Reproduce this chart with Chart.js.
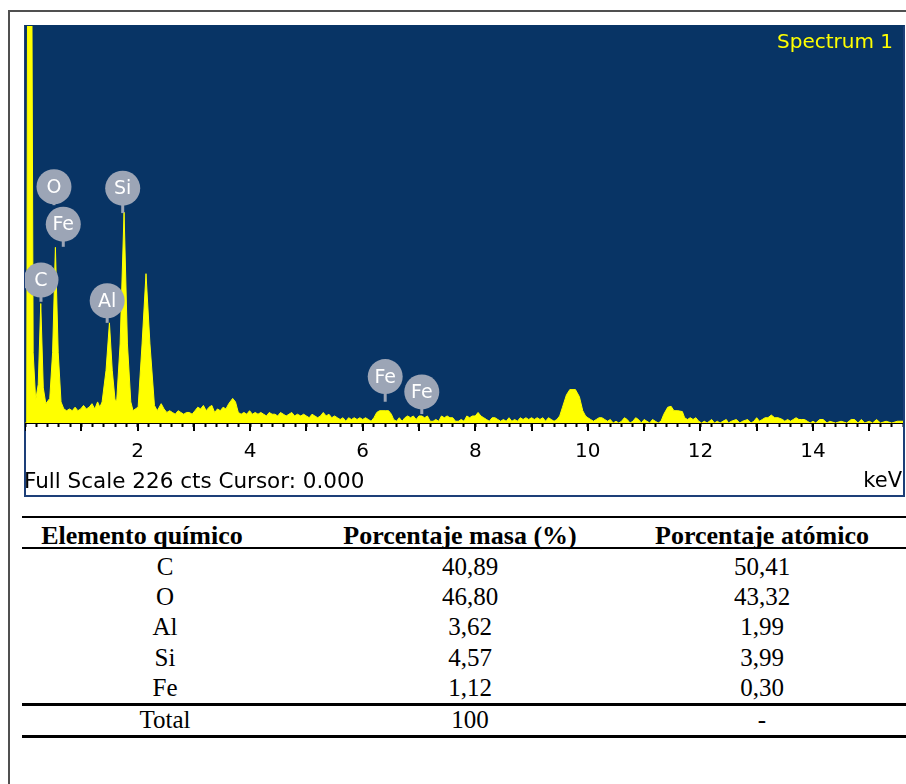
<!DOCTYPE html>
<html><head><meta charset="utf-8">
<script src="https://cdn.jsdelivr.net/npm/chart.js@4.4.1/dist/chart.umd.min.js"></script>
<style>
html,body{margin:0;padding:0;background:#fff;width:906px;height:784px;overflow:hidden;}
#frame{position:absolute;left:8px;top:10px;width:1000px;height:1000px;border-left:2px solid #505050;border-top:2px solid #505050;}
#panel{position:absolute;left:24px;top:25px;width:881px;height:472px;box-sizing:border-box;border:2px solid #1d3f78;border-top-color:#083465;background:#fff;}
#spec{position:absolute;left:25px;top:26px;}
.sans{position:absolute;font-family:'DejaVu Sans',sans-serif;white-space:nowrap;}
.rule{position:absolute;left:22px;width:900px;background:#000;}
.cell{position:absolute;font-family:'Liberation Serif','Times New Roman',serif;font-size:25px;line-height:31px;white-space:nowrap;color:#000;transform:translateX(-50%);}
.head{font-weight:bold;font-size:26px;}
</style>
</head><body>
<div id="frame"></div>
<div id="panel"></div>
<canvas id="spec" width="878" height="470"></canvas>
<div class="sans" style="left:700px;width:193px;text-align:right;top:31px;font-size:20px;line-height:20px;color:#ffff00;">Spectrum 1</div>
<div class="sans" style="left:24px;top:470px;font-size:21.5px;line-height:21px;color:#000;">Full Scale 226 cts Cursor: 0.000</div>
<div class="sans" style="left:800px;width:102px;text-align:right;top:470px;font-size:21px;line-height:21px;color:#000;">keV</div>
<div id="table"></div>
<script>
// EDS spectrum: [energy keV, counts]
const spectrum = [
[0.00,0],[0.03,0],[0.055,400],[0.105,400],[0.145,40],[0.19,13],[0.235,22],[0.28,68],[0.325,20],[0.37,11],
[0.44,14],[0.49,40],[0.54,100],[0.59,40],[0.64,12],
[0.69,8],[0.74,7],[0.79,8],[0.84,7],[0.89,9],[0.94,7],[0.99,8],[1.04,10],[1.09,8],[1.14,9],[1.19,11],[1.24,8],[1.29,12],[1.33,9],
[1.37,12],[1.44,30],[1.50,57],[1.55,30],[1.60,13],
[1.63,13],[1.69,45],[1.76,120],[1.82,45],[1.88,12],[1.92,7],[1.96,8],
[2.01,9],[2.08,45],[2.15,85],[2.22,45],[2.30,10],
[2.35,7],[2.42,11],[2.47,8],[2.52,6],[2.57,7],[2.62,6],[2.67,5],[2.72,7],[2.77,6],[2.82,5],[2.87,6],[2.92,6],[2.97,5],
[3.02,7],[3.07,9],[3.12,8],[3.17,10],[3.22,7],[3.27,9],[3.32,10],[3.37,6],[3.42,8],[3.47,7],[3.52,9],[3.57,8],[3.62,11],
[3.69,14],[3.74,12],[3.79,6],[3.84,5],[3.89,6],[3.94,5],[3.99,7],[4.04,5],[4.09,6],[4.14,5],[4.19,6],[4.24,5],[4.29,4],
[4.34,6],[4.39,5],[4.44,5],[4.49,4],[4.54,6],[4.59,5],[4.64,4],[4.69,5],[4.74,6],[4.79,4],[4.84,5],
[4.90,4],[4.95,5],[5.00,4],[5.05,3],[5.10,5],[5.15,4],[5.20,3],[5.25,4],[5.30,6],[5.35,4],[5.40,5],[5.45,3],[5.50,4],
[5.55,3],[5.60,2],[5.65,3],[5.70,1],[5.75,3],[5.80,2],[5.85,3],[5.90,2],[5.95,3],[6.00,2],[6.05,3],[6.10,2],[6.15,1],
[6.20,3],[6.25,6],[6.30,7],[6.40,7],[6.46,7],[6.51,5],[6.55,2],[6.60,1],[6.65,3],[6.70,1],[6.75,3],[6.80,4],[6.85,3],
[6.90,4],[6.95,2],[7.00,4],[7.05,4],[7.10,3],[7.15,4],[7.20,1],[7.25,1],[7.30,2],[7.35,1],[7.40,4],[7.45,3],[7.50,4],
[7.55,3],[7.60,3],[7.65,1],[7.70,1],[7.75,2],[7.80,1],[7.85,4],[7.90,3],[7.95,4],[8.00,4],[8.05,6],[8.10,4],[8.15,3],
[8.20,2],[8.25,1],[8.30,3],[8.35,3],[8.40,2],[8.45,1],[8.50,2],[8.55,1],[8.60,3],[8.65,1],[8.70,2],[8.75,1],[8.80,3],
[8.85,2],[8.90,3],[8.95,2],[9.00,3],[9.05,2],[9.10,3],[9.15,2],[9.20,3],[9.25,1],[9.30,3],[9.35,2],[9.40,1],[9.45,2],
[9.50,4],[9.55,9],[9.62,16],[9.68,19],[9.78,19],[9.85,15],[9.91,7],[9.96,4],
[10.00,3],[10.05,2],[10.10,1],[10.15,2],[10.20,3],[10.25,3],[10.30,2],[10.35,1],[10.40,2],[10.45,0],[10.50,1],[10.55,0],
[10.60,1],[10.65,3],[10.70,2],[10.75,0],[10.80,1],[10.85,3],[10.90,2],[10.95,0],[11.00,2],[11.05,1],[11.10,0],[11.15,2],
[11.20,1],[11.25,0],[11.30,1],[11.35,5],[11.42,9],[11.48,9.5],[11.53,7],[11.60,7],[11.68,6.5],[11.72,3],[11.77,2],
[11.82,3],[11.87,2],[11.92,3],[11.97,1],[12.02,0],[12.07,1],[12.12,0],[12.20,2],[12.25,0],[12.30,1],[12.35,0],[12.40,1],
[12.46,2],[12.50,0],[12.55,1],[12.64,2],[12.70,0],[12.75,1],[12.84,2],[12.90,0],[12.95,1],[13.00,3],[13.05,1],[13.10,2],
[13.15,3],[13.20,3],[13.26,4.5],[13.32,3],[13.38,3],[13.46,2],[13.50,1],[13.55,2],[13.60,1],[13.65,2],[13.70,3],[13.75,2],
[13.80,2],[13.85,2],[13.90,1],[13.95,0],[14.00,1],[14.05,0],[14.12,2],[14.18,2],[14.25,0],[14.30,1],[14.40,0],[14.50,1],
[14.60,0],[14.68,2],[14.74,2],[14.80,0],[14.86,2],[14.92,0],[15.00,1],[15.06,0],[15.13,2],[15.20,0],[15.30,1],[15.40,0],
[15.50,1],[15.60,1]
];
const tickLabels = ['2','4','6','8','10','12','14'];
const fullScaleCounts = 226;
const energyMaxKeV = 15.6;

// Element peak markers
const markerSymbols = ['C','O','Fe','Al','Si','Fe','Fe'];
const markerKeV = [0.284, 0.515, 0.68, 1.46, 1.736, 6.40, 7.05];
const markerCenterCounts = [81.4, 134.5, 113.2, 69.6, 133.7, 26.4, 17.7];
const markerStemCounts = [69, 124, 100.3, 57, 119.5, 12.1, 5.1];

// Table
const tableHeaders = ['Elemento químico','Porcentaje masa (%)','Porcentaje atómico'];
const tableElements = ['C','O','Al','Si','Fe'];
const massPercent = ['40,89','46,80','3,62','4,57','1,12'];
const atomicPercent = ['50,41','43,32','1,99','3,99','0,30'];
const totalRow = ['Total','100','-'];

const panelBg = {
  id:'panelBg',
  beforeDraw(c){
    const {ctx, chartArea:a} = c;
    ctx.save(); ctx.fillStyle = '#083465';
    ctx.fillRect(a.left, a.top, a.right - a.left, a.bottom - a.top);
    ctx.restore();
  }
};
const majorTicks = {
  id:'majorTicks',
  afterDraw(c){
    const s = c.scales.x, ctx = c.ctx;
    ctx.save(); ctx.strokeStyle = '#000'; ctx.lineWidth = 2;
    s.ticks.forEach(t => {
      const r = Math.round(t.value * 10) / 10;
      if (Number.isInteger(r)) {
        const x = Math.round(s.getPixelForValue(r));
        ctx.beginPath(); ctx.moveTo(x, s.top); ctx.lineTo(x, s.top + 8); ctx.stroke();
      }
    });
    ctx.restore();
  }
};
const elementMarkers = {
  id:'elementMarkers',
  afterDatasetsDraw(c){
    const xs = c.scales.x, ys = c.scales.y, ctx = c.ctx;
    ctx.save();
    ctx.strokeStyle = '#9ca5b6'; ctx.lineWidth = 3;
    markerSymbols.forEach((s,i) => {
      const x = xs.getPixelForValue(markerKeV[i]);
      ctx.beginPath();
      ctx.moveTo(x, ys.getPixelForValue(markerCenterCounts[i]));
      ctx.lineTo(x, ys.getPixelForValue(markerStemCounts[i]));
      ctx.stroke();
    });
    markerSymbols.forEach((s,i) => {
      const x = xs.getPixelForValue(markerKeV[i]);
      const y = ys.getPixelForValue(markerCenterCounts[i]);
      ctx.fillStyle = '#9ca5b6';
      ctx.beginPath(); ctx.arc(x, y, 17.5, 0, Math.PI*2); ctx.fill();
      ctx.fillStyle = '#ffffff';
      ctx.font = "19px 'DejaVu Sans', sans-serif";
      ctx.textAlign = 'center'; ctx.textBaseline = 'middle';
      ctx.fillText(s, x, y + 1);
    });
    ctx.restore();
  }
};

new Chart(document.getElementById('spec'), {
  type:'line',
  data:{datasets:[{
    data: spectrum.map(p => ({x:p[0], y:p[1]})),
    borderColor:'#ffff00', backgroundColor:'#ffff00', borderWidth:1,
    fill:'origin', pointRadius:0, tension:0
  }]},
  options:{
    responsive:false, animation:false, devicePixelRatio:1,
    layout:{padding:0},
    plugins:{legend:{display:false}, tooltip:{enabled:false}},
    scales:{
      x:{
        type:'linear', min:0, max:energyMaxKeV, z:1,
        afterFit(s){ s.height = 73; s.paddingLeft = 0; s.paddingRight = 0; },
        border:{display:true, color:'#000', width:2},
        grid:{display:true, drawOnChartArea:false, drawTicks:true, tickLength:4, tickColor:'#000', tickWidth:2},
        ticks:{
          stepSize:0.2, maxTicksLimit:200, autoSkip:false, maxRotation:0, minRotation:0,
          padding:13, color:'#000', font:{family:"'DejaVu Sans', sans-serif", size:20},
          callback:(v) => { const s = String(Math.round(v*10)/10); return tickLabels.includes(s) ? s : ''; }
        }
      },
      y:{type:'linear', min:0, max:fullScaleCounts, display:false}
    }
  },
  plugins:[panelBg, majorTicks, elementMarkers]
});

// Build the table
const tbl = document.getElementById('table');
function rule(top, h){ const d = document.createElement('div'); d.className = 'rule'; d.style.top = top + 'px'; d.style.height = h + 'px'; tbl.appendChild(d); }
function cell(text, cx, top, head){ const s = document.createElement('div'); s.className = 'cell' + (head ? ' head' : ''); s.textContent = text; s.style.left = cx + 'px'; s.style.top = top + 'px'; tbl.appendChild(s); }
rule(516, 2); rule(547, 1.5); rule(703, 2.5); rule(735, 2.5);
const headerCenters = [142, 460, 762];
const colCenters = [165, 470, 762];
tableHeaders.forEach((h,i) => cell(h, headerCenters[i], 520, true));
const rowTops = [551, 581, 611, 641.5, 672];
tableElements.forEach((e,i) => {
  cell(e, colCenters[0], rowTops[i]);
  cell(massPercent[i], colCenters[1], rowTops[i]);
  cell(atomicPercent[i], colCenters[2], rowTops[i]);
});
totalRow.forEach((t,i) => cell(t, colCenters[i], 703.5));
</script>
</body></html>
